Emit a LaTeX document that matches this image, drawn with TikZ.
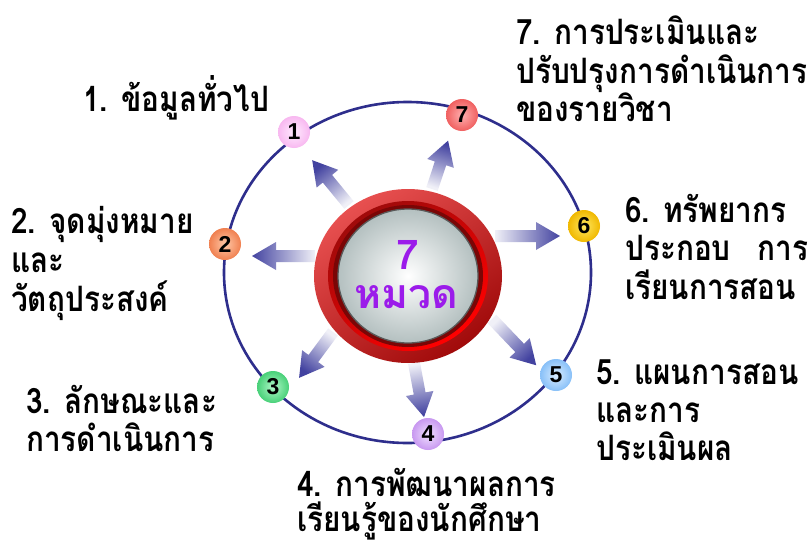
\documentclass[tikz,border=0pt]{standalone}
\usepackage{fontspec}
\newfontfamily\thaicond[Script=Thai,FakeStretch=0.85]{Loma}
\newfontfamily\thaifont[Script=Thai]{Loma}
\newfontfamily\numfont{Liberation Sans}
\definecolor{ringblue}{HTML}{2E2E8C}
\definecolor{arrowdark}{HTML}{4343A0}
\definecolor{centerpurple}{HTML}{9B1BEA}
\definecolor{redlight}{HTML}{E85050}
\definecolor{reddark}{HTML}{A00A0A}
\definecolor{redband}{HTML}{7A0606}
\definecolor{greyout}{HTML}{B4C0C0}
\tikzset{
  lbl/.style={anchor=base west, inner sep=0pt, text=black,
    font=\thaicond\bfseries\fontsize{35}{40}\selectfont},
  numc/.style={circle, minimum size=32pt, inner sep=0pt,
    font=\numfont\bfseries\fontsize{23}{23}\selectfont},
  bigtxt/.style={anchor=base, inner sep=0pt, text=centerpurple,
    font=\thaifont\bfseries\fontsize{41}{41}\selectfont},
}
\newcommand\gradarrow[6]{% name, x, y, angle, length, shading angle
  \coordinate (#1) at (#2,#3);
  \shade[shift={(#1)}, rotate=#4, top color=arrowdark, bottom color=white!92!arrowdark, shading angle=#6]
    (0,-6) -- ({#5-24},-6) -- ({#5-24},-14) -- (#5,0) -- ({#5-24},14) -- ({#5-24},6) -- (0,6) -- cycle;
}
\begin{document}
\begin{tikzpicture}[x=1pt,y=-1pt]
\useasboundingbox[fill=white] (0,0) rectangle (812,541);
% orbit
\draw[ringblue, line width=2.6pt] (407.5,272.5) ellipse [x radius=183.5, y radius=170.5];
% arrows
\gradarrow{a1}{349}{205}{129.4}{58}{39.4}
\gradarrow{a7}{432}{189}{71.6}{51}{-18.4}
\gradarrow{a6}{495}{236}{0}{65}{-90}
\gradarrow{a2}{315}{256}{180}{63}{90}
\gradarrow{a3}{333}{332}{-126.5}{57}{143.5}
\gradarrow{a4}{414}{363}{-79.5}{55}{190.5}
\gradarrow{a5}{492}{319}{-46.3}{64}{-136.3}
% centre
\coordinate (c) at (408,276);
\shade[top color=redlight, bottom color=reddark, shading angle=35] (c) ellipse [x radius=94, y radius=87];
\shade[top color=reddark, bottom color=red, shading angle=35] (c) ellipse [x radius=80, y radius=75];
\fill[redband] (c) ellipse [x radius=75, y radius=71];
\shade[inner color=white, outer color=greyout, draw=black!65, line width=1.3pt] (c) ellipse [x radius=70, y radius=67];
\node[bigtxt] (t7) at (408,269) {7};
\node[bigtxt] (tm) at (406,308) {หมวด};
% numbered circles
\node[numc, inner color=white!80!magenta!40, outer color={rgb,255:red,248;green,184;blue,240}] (n1) at (294,132) {1};
\node[numc, inner color={rgb,255:red,255;green,200;blue,168}, outer color={rgb,255:red,240;green,128;blue,80}] (n2) at (225,244) {2};
\node[numc, inner color={rgb,255:red,176;green,248;blue,200}, outer color={rgb,255:red,72;green,208;blue,120}] (n3) at (273,387) {3};
\node[numc, inner color={rgb,255:red,240;green,224;blue,255}, outer color={rgb,255:red,200;green,152;blue,240}] (n4) at (428,434) {4};
\node[numc, inner color={rgb,255:red,216;green,236;blue,255}, outer color={rgb,255:red,136;green,192;blue,248}] (n5) at (556,375) {5};
\node[numc, inner color={rgb,255:red,255;green,232;blue,96}, outer color={rgb,255:red,240;green,184;blue,0}] (n6) at (584,226) {6};
\node[numc, inner color={rgb,255:red,255;green,176;blue,176}, outer color={rgb,255:red,240;green,96;blue,96}] (n7) at (462,115) {7};
% labels
\node[lbl] (l1) at (83,111) {1. ข้อมูลทั่วไป};
\node[lbl] (l2a) at (11,233) {2. จุดมุ่งหมาย};
\node[lbl] (l2b) at (11,272) {และ};
\node[lbl] (l2c) at (11,311) {วัตถุประสงค์};
\node[lbl] (l3a) at (26,413) {3. ลักษณะและ};
\node[lbl] (l3b) at (26,451) {การดำเนินการ};
\node[lbl] (l4a) at (297,496) {4. การพัฒนาผลการ};
\node[lbl] (l4b) at (297,531) {เรียนรู้ของนักศึกษา};
\node[lbl] (l5a) at (596,384) {5. แผนการสอน};
\node[lbl] (l5b) at (596,422) {และการ};
\node[lbl] (l5c) at (596,460) {ประเมินผล};
\node[lbl] (l6a) at (625,222) {6. ทรัพยากร};
\node[lbl] (l6b) at (625,260) {\hbox to 183pt{ประกอบ\hfill การ}};
\node[lbl] (l6c) at (625,299) {เรียนการสอน};
\node[lbl] (l7a) at (516,44) {7. การประเมินและ};
\node[lbl] (l7b) at (516,83) {ปรับปรุงการดำเนินการ};
\node[lbl] (l7c) at (516,121) {ของรายวิชา};
\end{tikzpicture}
\end{document}
